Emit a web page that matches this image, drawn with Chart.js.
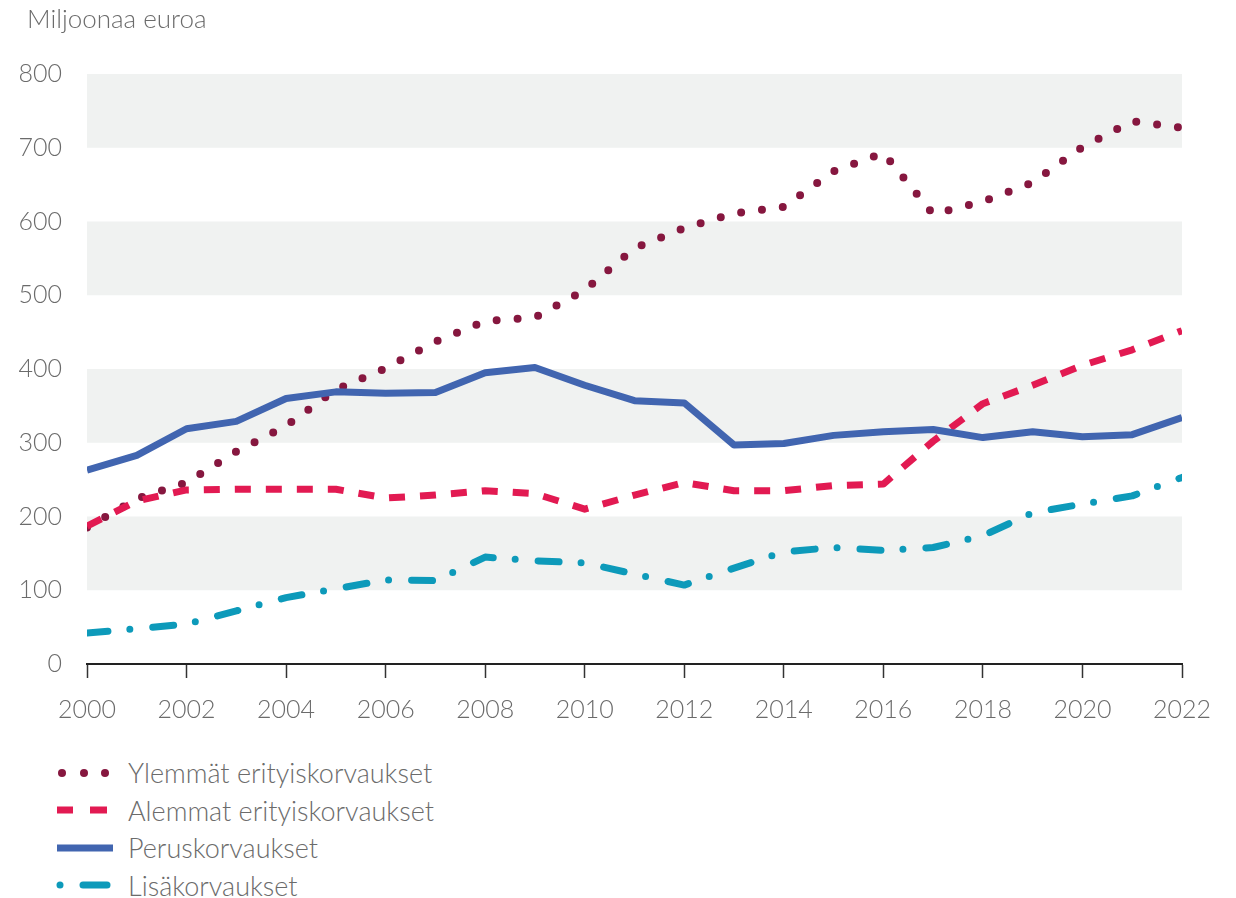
<!DOCTYPE html>
<html>
<head>
<meta charset="utf-8">
<script src="https://cdn.jsdelivr.net/npm/chart.js@4/dist/chart.umd.min.js"></script>
<style>
  html, body { margin: 0; padding: 0; background: #fff; }
  body { width: 1236px; height: 898px; position: relative; overflow: hidden; font-family: Lato, "Open Sans", sans-serif; }
  #wrap { position: absolute; left: 0; top: 0; width: 1236px; height: 752px; }
  #ytitle { position: absolute; left: 27px; top: 2px; font-size: 26px; font-weight: 300; color: #6b6b6b; }
  #legend { position: absolute; left: 50px; top: 754px; }
  .row { height: 37.5px; display: flex; align-items: center; }
  .row svg { width: 70px; height: 20px; margin-right: 8px; }
  .row span { font-size: 27px; font-weight: 300; color: #6b6b6b; }
</style>
</head>
<body>
<div id="wrap"><canvas id="c" width="1236" height="752"></canvas></div>
<div id="ytitle">Miljoonaa euroa</div>
<div id="legend"></div>
<script>
const years = [2000,2001,2002,2003,2004,2005,2006,2007,2008,2009,2010,2011,2012,2013,2014,2015,2016,2017,2018,2019,2020,2021,2022];
const seriesNames = ["Ylemmät erityiskorvaukset","Alemmat erityiskorvaukset","Peruskorvaukset","Lisäkorvaukset"];
const ylemmat = [185,224,246,288,323,372,401,437,465,470,507,564,591,611,620,668,693,610,627,653,701,736,727];
const alemmat = [187,221,236,237,237,237,225,229,235,231,210,229,246,235,235,242,244,302,353,378,405,426,452];
const perus   = [263,283,319,329,360,369,367,368,395,402,378,357,354,297,299,310,315,318,307,315,308,311,334];
const lisa    = [42,48,54,72,90,102,114,113,145,140,137,122,107,130,152,158,154,158,174,205,217,228,253];
const yTicks = [0,100,200,300,400,500,600,700,800];
const bands = [[100,200],[300,400],[500,600],[700,800]];

const toXY = arr => arr.map((v,i) => ({x: years[i], y: v}));
const colors = ["#86173f", "#e21a52", "#4165b0", "#0d9aba"];

const bandPlugin = {
  id: 'bands',
  beforeDatasetsDraw(chart) {
    const {ctx, chartArea, scales} = chart;
    ctx.save();
    ctx.fillStyle = '#f0f2f1';
    bands.forEach(([a,b]) => {
      const y1 = scales.y.getPixelForValue(b), y2 = scales.y.getPixelForValue(a);
      ctx.fillRect(chartArea.left, y1, chartArea.right - chartArea.left, y2 - y1);
    });
    ctx.restore();
  }
};

Chart.defaults.font.family = 'Lato, "Open Sans", sans-serif';
Chart.defaults.color = '#6b6b6b';

new Chart(document.getElementById('c'), {
  type: 'line',
  data: {
    datasets: [
      { label: seriesNames[0], data: toXY(ylemmat), borderColor: colors[0], borderWidth: 8, borderDash: [0, 21], borderCapStyle: 'round', pointRadius: 0, tension: 0, order: 4 },
      { label: seriesNames[1], data: toXY(alemmat), borderColor: colors[1], borderWidth: 7, borderDash: [16, 15], borderCapStyle: 'butt', borderJoinStyle: 'round', pointRadius: 0, tension: 0, order: 3 },
      { label: seriesNames[2], data: toXY(perus), borderColor: colors[2], borderWidth: 7, borderJoinStyle: 'round', pointRadius: 0, tension: 0, order: 2 },
      { label: seriesNames[3], data: toXY(lisa), borderColor: colors[3], borderWidth: 7, borderDash: [21, 22, 0, 23], borderCapStyle: 'round', borderJoinStyle: 'round', pointRadius: 0, tension: 0, order: 1 }
    ]
  },
  options: {
    responsive: false,
    animation: false,
    events: [],
    layout: { padding: { left: 0, right: 54, top: 74, bottom: 10 } },
    plugins: { legend: { display: false }, tooltip: { enabled: false } },
    scales: {
      x: {
        type: 'linear', min: 2000, max: 2022,
        afterBuildTicks: s => { s.ticks = years.filter(y => y % 2 === 0).map(v => ({value: v})); },
        ticks: { callback: v => String(v), font: { size: 25, weight: '300' }, color: '#6b6b6b', padding: 17, maxRotation: 0 },
        grid: { drawOnChartArea: false, drawTicks: true, tickLength: 14, tickColor: '#333', tickWidth: 1.5 },
        border: { display: true, color: '#222', width: 2 }
      },
      y: {
        min: 0, max: 800,
        afterBuildTicks: s => { s.ticks = yTicks.map(v => ({value: v})); },
        afterFit: s => { s.width = 87; },
        ticks: { font: { size: 25, weight: '300' }, color: '#6b6b6b', padding: 17 },
        grid: { display: false },
        border: { display: false }
      }
    }
  },
  plugins: [bandPlugin]
});

// HTML legend
const legend = document.getElementById('legend');
const samples = [
  `<svg viewBox="0 0 70 20"><circle cx="12" cy="10" r="4" fill="${colors[0]}"/><circle cx="34" cy="10" r="4" fill="${colors[0]}"/><circle cx="55" cy="10" r="4" fill="${colors[0]}"/></svg>`,
  `<svg viewBox="0 0 70 20"><rect x="7" y="6.5" width="16" height="7" fill="${colors[1]}"/><rect x="40" y="6.5" width="17" height="7" fill="${colors[1]}"/></svg>`,
  `<svg viewBox="0 0 70 20"><rect x="7" y="6.5" width="56" height="7" fill="${colors[2]}"/></svg>`,
  `<svg viewBox="0 0 70 20"><circle cx="10" cy="10" r="3.5" fill="${colors[3]}"/><line x1="33" y1="10" x2="57" y2="10" stroke="${colors[3]}" stroke-width="7" stroke-linecap="round"/></svg>`
];
seriesNames.forEach((n, i) => {
  const r = document.createElement('div');
  r.className = 'row';
  r.innerHTML = samples[i] + '<span></span>';
  r.querySelector('span').textContent = n;
  legend.appendChild(r);
});
</script>
</body>
</html>
